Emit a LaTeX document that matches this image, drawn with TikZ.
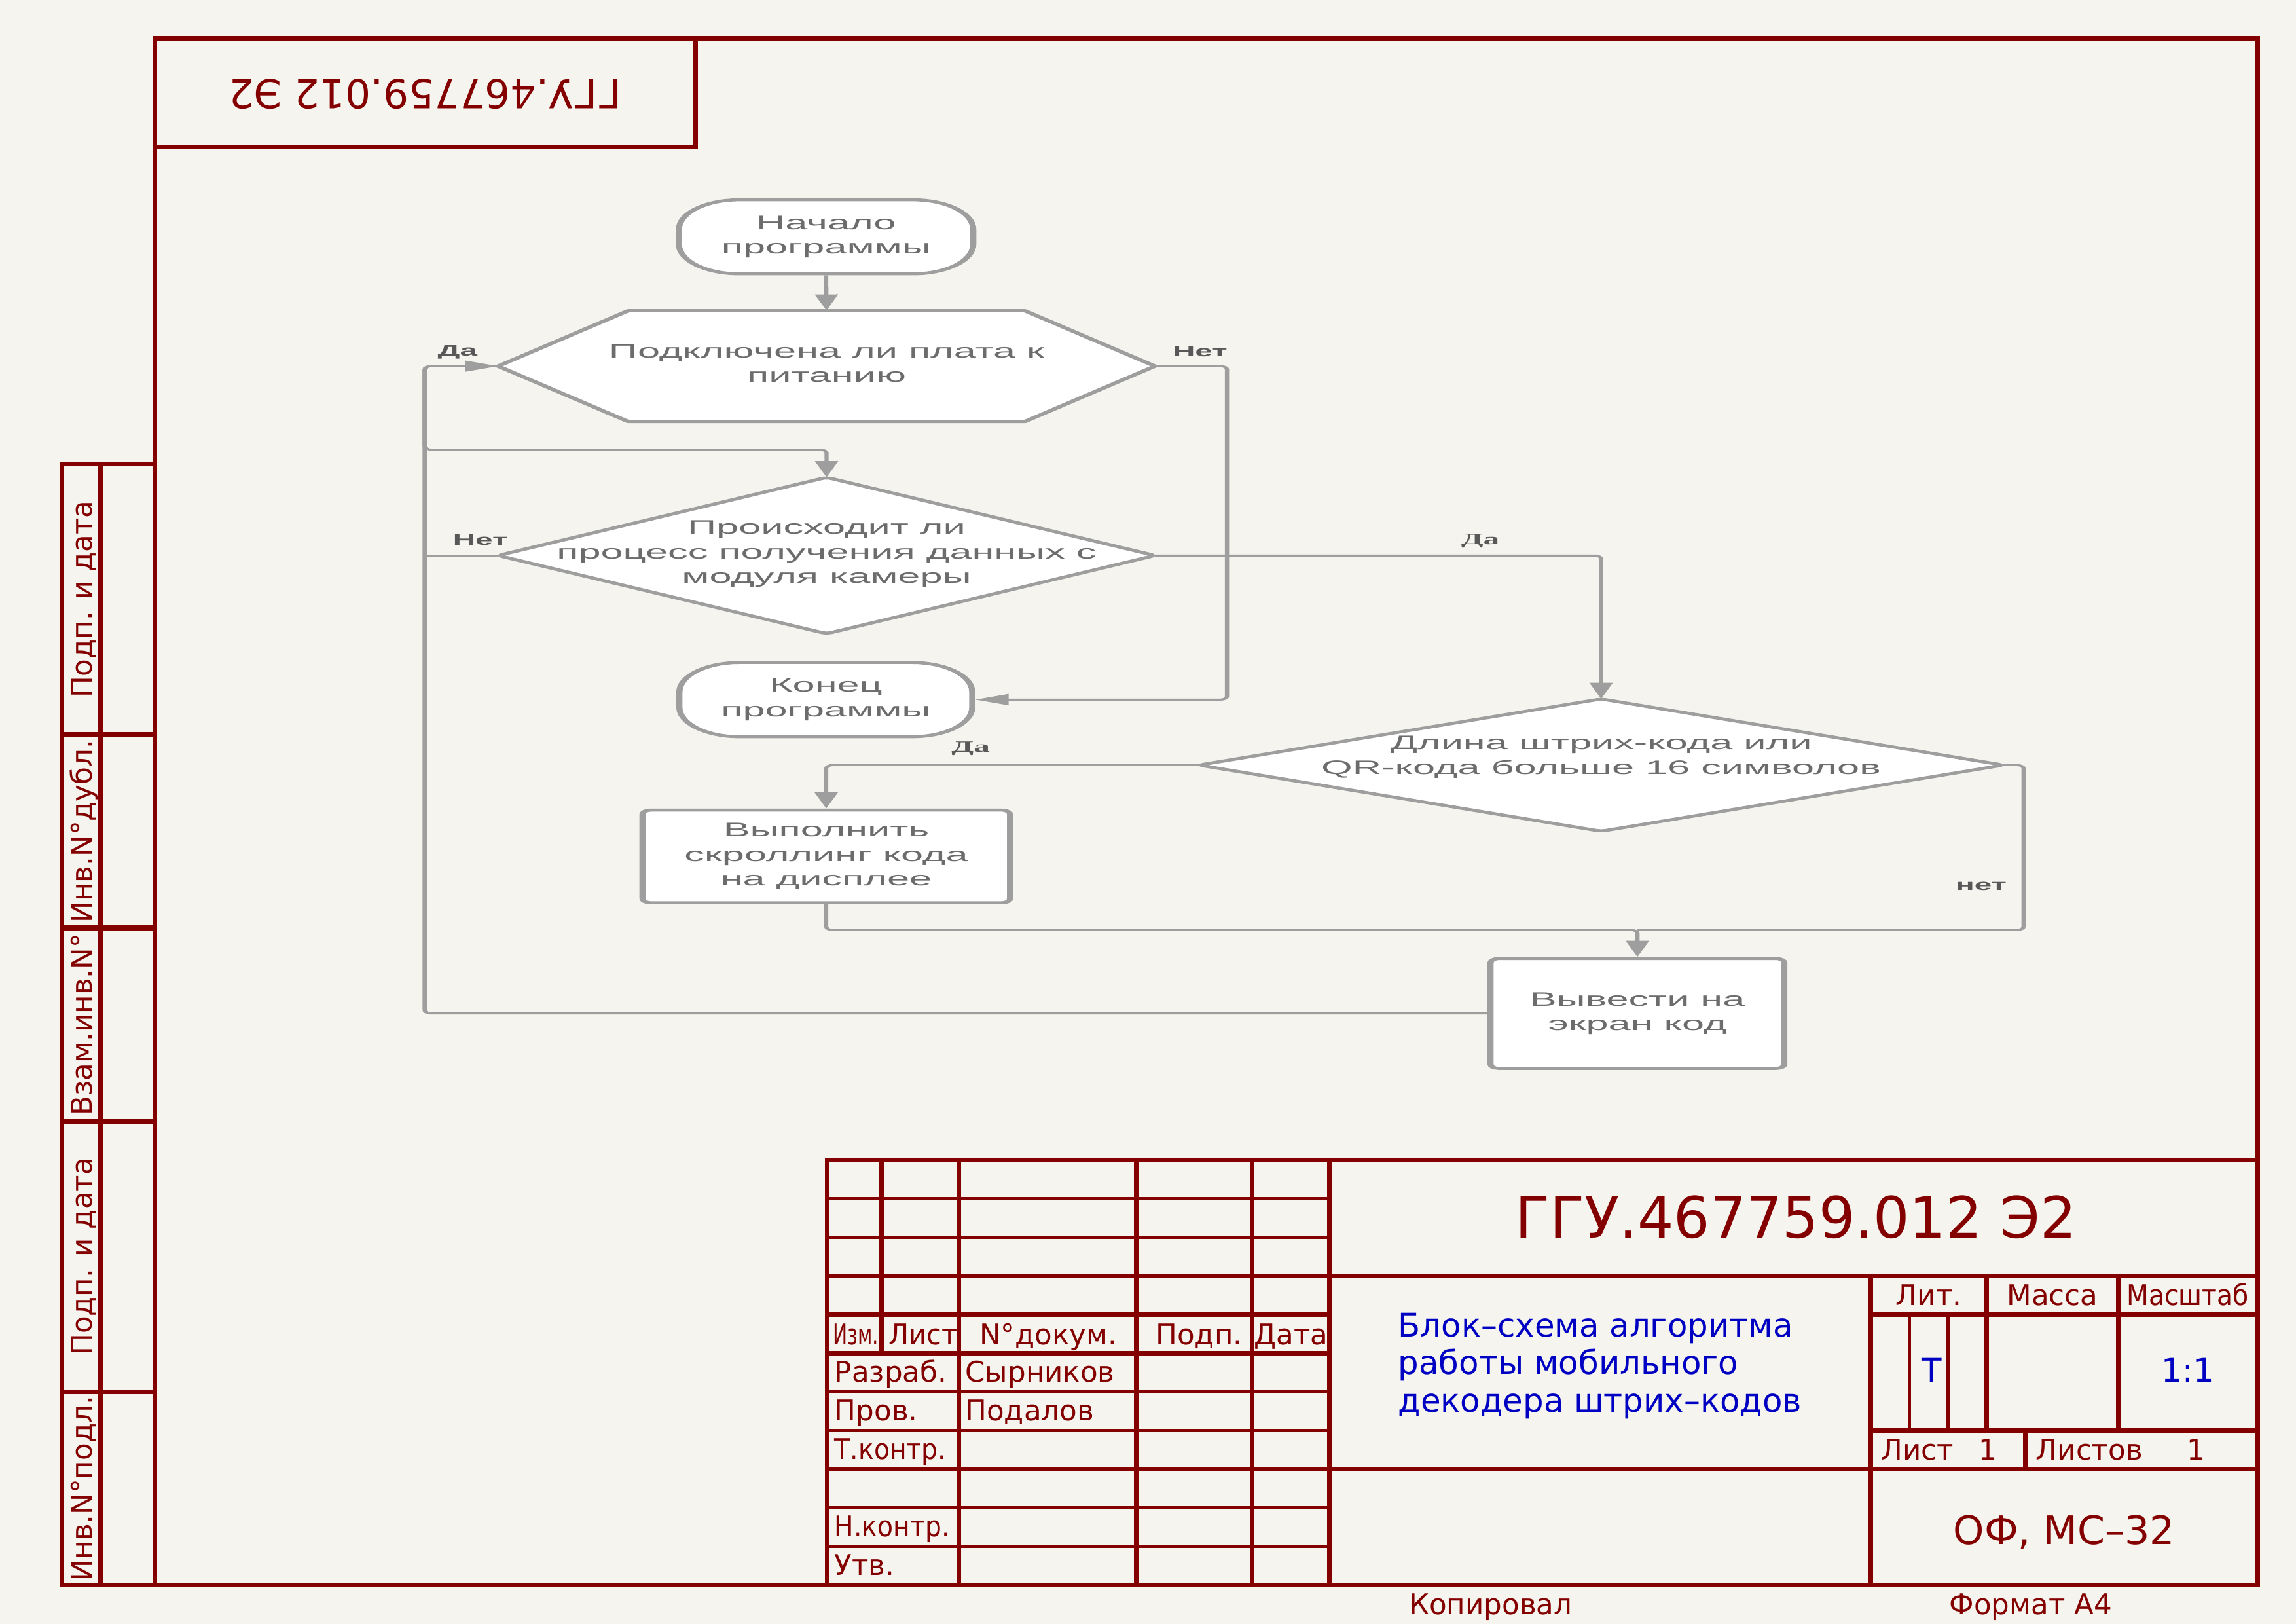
\documentclass[tikz,border=0pt]{standalone}
\usepackage{fontspec}
\usepackage{graphicx}
\setmainfont{Liberation Sans}
\newfontfamily\gost{DejaVu Sans}
\newfontfamily\fcs{Liberation Sans}
\newfontfamily\fcserif{Liberation Serif}
\usetikzlibrary{arrows.meta}
\definecolor{frame}{RGB}{132,0,0}
\definecolor{paper}{RGB}{245,244,239}
\definecolor{blu}{RGB}{0,0,194}
\definecolor{fcline}{RGB}{158,158,158}
\definecolor{fctext}{RGB}{108,108,108}
\definecolor{fclab}{RGB}{88,88,88}
\begin{document}
\begin{tikzpicture}[x=1mm,y=-1mm,
  thk/.style={draw=frame,line width=0.6mm,line cap=rect},
  thn/.style={draw=frame,line width=0.4mm,line cap=rect},
  ft/.style={text=frame,font=\gost\fontsize{10.5}{12}\selectfont,inner sep=0pt},
  bt/.style={text=blu,font=\gost\fontsize{12}{14}\selectfont,inner sep=0pt},
  fctxt/.style={text=fctext,font=\fcs\fontsize{7.2}{9}\selectfont,align=center,inner sep=0pt},
  fcshape/.style={draw=fcline,line width=1.1pt,fill=white,line join=round},
  fcbox/.style={draw=none,inner sep=0pt},
  term/.style={fcshape,rounded corners=3.8mm,fctxt},
  boxs/.style={fcshape,rounded corners=1.5pt,fctxt},
  conn/.style={draw=fcline,line width=0.75pt,rounded corners=1.2pt},
  arr/.style={conn,-{Triangle[length=2.1mm,width=1.4mm]}},
  lab/.style={text=fclab,font=\fcs\bfseries\fontsize{5.6}{6}\selectfont,inner sep=0pt},
  labs/.style={text=fclab,font=\fcserif\bfseries\fontsize{5.8}{6}\selectfont,inner sep=0pt}]
\fill[paper] (0,0) rectangle (297,210);
\useasboundingbox (0,0) rectangle (297,210);

% ---------- frame ----------
\draw[thk] (20,5) rectangle (292,205);
\draw[thk] (20,19) -- (90,19) -- (90,5);
\node[ft,font=\gost\fontsize{14.7}{16}\selectfont,rotate=180,anchor=base] (tcode) at (55,10.3) {ГГУ.467759.012 Э2};

% left strip
\draw[thk] (20,60) -- (8,60) -- (8,205) -- (20,205);
\draw[thk] (13,60) -- (13,205);
\foreach \yy in {95,120,145,180} \draw[thk] (8,\yy) -- (20,\yy);
\node[ft,rotate=90,anchor=base] (s1) at (11.86,77.5) {Подп. и дата};
\node[ft,rotate=90,anchor=base] (s2) at (11.86,107.5) {Инв.N°дубл.};
\node[ft,rotate=90,anchor=base] (s3) at (11.86,132.5) {Взам.инв.N°};
\node[ft,rotate=90,anchor=base] (s4) at (11.86,162.5) {Подп. и дата};
\node[ft,rotate=90,anchor=base] (s5) at (11.86,192.5) {Инв.N°подл.};

% ---------- title block ----------
\draw[thk] (107,205) -- (107,150) -- (292,150);
\draw[thk] (114,150) -- (114,175);
\foreach \xx in {124,147,162,172} \draw[thk] (\xx,150) -- (\xx,205);
\foreach \yy in {155,160,165,180,185,190,195,200} \draw[thn] (107,\yy) -- (172,\yy);
\draw[thk] (107,170) -- (172,170);
\draw[thk] (107,175) -- (172,175);
\draw[thk] (172,165) -- (292,165);
\draw[thk] (242,165) -- (242,205);
\draw[thk] (242,170) -- (292,170);
\draw[thk] (242,185) -- (292,185);
\draw[thk] (172,190) -- (292,190);
\draw[thk] (257,165) -- (257,185);
\draw[thk] (274,165) -- (274,185);
\draw[thk] (262,185) -- (262,190);
\draw[thn] (247,170) -- (247,185);
\draw[thn] (252,170) -- (252,185);

\node[ft,anchor=base west] (tizm) at (107.7,173.9) {\scalebox{0.68}[1]{Изм.}};
\node[ft,anchor=base west] (tlist) at (114.9,173.9) {\scalebox{0.95}[1]{Лист}};
\node[ft,anchor=base] (tdoc) at (135.6,173.9) {N°докум.};
\node[ft,anchor=base] (tpodp) at (155.1,173.9) {Подп.};
\node[ft,anchor=base] (tdata) at (167,173.9) {Дата};
\node[ft,anchor=base west] (trazr) at (107.9,178.7) {Разраб.};
\node[ft,anchor=base west] (tsyr) at (124.8,178.7) {Сырников};
\node[ft,anchor=base west] (tprov) at (107.9,183.7) {Пров.};
\node[ft,anchor=base west] (tpod) at (124.8,183.7) {Подалов};
\node[ft,anchor=base west] (ttk) at (107.9,188.7) {\scalebox{0.9}[1]{Т.контр.}};
\node[ft,anchor=base west] (tnk) at (107.9,198.7) {\scalebox{0.9}[1]{Н.контр.}};
\node[ft,anchor=base west] (tutv) at (107.9,203.7) {Утв.};

\node[ft,font=\gost\fontsize{21}{24}\selectfont,anchor=base] (tmain) at (232.3,160.1) {ГГУ.467759.012 Э2};
\node[bt,anchor=base west] (b1) at (180.8,172.9) {Блок–схема алгоритма};
\node[bt,anchor=base west] (b2) at (180.8,177.7) {работы мобильного};
\node[bt,anchor=base west] (b3) at (180.8,182.6) {декодера штрих–кодов};

\node[ft,anchor=base] (tlit) at (249.5,168.8) {Лит.};
\node[ft,anchor=base] (tmassa) at (265.5,168.8) {Масса};
\node[ft,anchor=base] (tmasst) at (283,168.8) {\scalebox{0.9}[1]{Масштаб}};
\node[bt,anchor=base] (tT) at (249.9,178.7) {Т};
\node[bt,anchor=base] (tscale) at (283,178.7) {1:1};
\node[ft,anchor=base west] (tl1) at (243.3,188.8) {Лист};
\node[ft,anchor=base] (tl1n) at (257.1,188.8) {1};
\node[ft,anchor=base west] (tl2) at (263.3,188.8) {Листов};
\node[ft,anchor=base] (tl2n) at (284.1,188.8) {1};
\node[ft,font=\gost\fontsize{14.5}{16}\selectfont,anchor=base] (torg) at (267,199.7) {ОФ, МС–32};

\node[ft,anchor=base west] (tkop) at (182.2,208.8) {Копировал};
\node[ft,anchor=base west] (tfmt) at (252.1,208.8) {Формат А4};

% ---------- flowchart (horizontally stretched) ----------
\begin{scope}[x=0.092395mm,y=-0.18941mm,transform canvas={xscale=2.05}]
  \node[term,minimum width=18.57mm,minimum height=9.57mm] (start) at (564.2,161.7) {Начало\\программы};
  \node[term,minimum width=18.48mm,minimum height=9.60mm] (end) at (564,477.7) {Конец\\программы};

  \node[fcbox,minimum width=41.30mm,minimum height=14.22mm] (hex) at (564.5,250) {};
  \draw[fcshape] (hex.west) -- ([xshift=8.22mm]hex.north west) -- ([xshift=-8.22mm]hex.north east)
     -- (hex.east) -- ([xshift=-8.22mm]hex.south east) -- ([xshift=8.22mm]hex.south west) -- cycle;
  \node[fctxt] (hext) at (564.5,248.2) {Подключена ли плата к\\питанию};

  \node[fcbox,minimum width=41.30mm,minimum height=20.08mm] (d1) at (564.5,379.3) {};
  \draw[fcshape,rounded corners=1pt] (d1.west) -- (d1.north) -- (d1.east) -- (d1.south) -- cycle;
  \node[fctxt] (d1t) at (564.5,378.2) {Происходит ли\\процесс получения данных с\\модуля камеры};

  \node[fcbox,minimum width=50.63mm,minimum height=16.97mm] (d2) at (1093.5,522.4) {};
  \draw[fcshape,rounded corners=1pt] (d2.west) -- (d2.north) -- (d2.east) -- (d2.south) -- cycle;
  \node[fctxt] (d2t) at (1093.5,517) {Длина штрих-кода или\\QR-кода больше 16 символов};

  \node[boxs,minimum width=23.19mm,minimum height=11.99mm] (scroll) at (564.3,584.8) {Выполнить\\скроллинг кода\\на дисплее};
  \node[boxs,minimum width=18.54mm,minimum height=14.21mm] (out) at (1118.3,692) {Вывести на\\экран код};

  % connectors
  \draw[arr] (start.south) -- (hex.north);
  \draw[arr] (hex.east) -- (838,250) |- (end.east);
  \draw[arr] (hex.west) -- (290,250) |- (564.5,307) -- (d1.north);
  \draw[arr] (out.west) -| (290,250) -- (hex.west);
  \draw[conn] (d1.west) -- (290,379.3);
  \draw[arr] (d1.east) -| (d2.north);
  \draw[arr] (d2.west) -| (scroll.north);
  \draw[arr] (scroll.south) |- (1118.3,635) -- (out.north);
  \draw[conn] (d2.east) -| (1382,635) -- (1118.3,635);

  % labels
  \node[lab] (lda1) at (312.5,240.4) {Да};
  \node[lab] (lnet1) at (819.5,240) {Нет};
  \node[lab] (lnet2) at (328,368.8) {Нет};
  \node[labs] (lda2) at (1011,369.5) {Да};
  \node[labs] (lda3) at (663,511) {Да};
  \node[lab] (lnet3) at (1353,605.3) {нет};
\end{scope}
\end{tikzpicture}
\end{document}
